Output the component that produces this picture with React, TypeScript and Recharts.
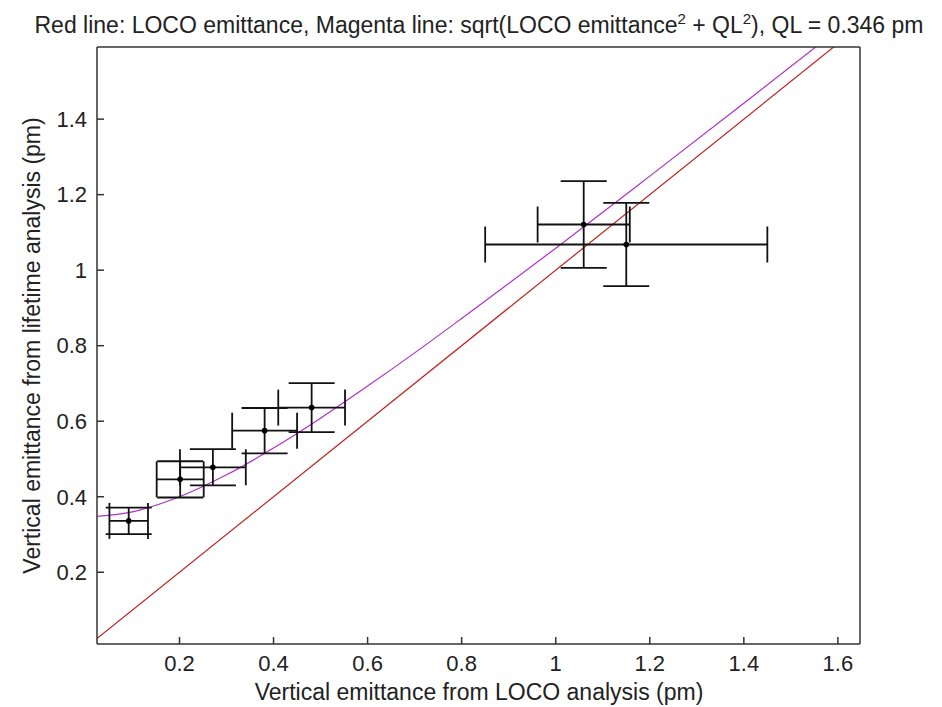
import React from "react";

//recharts
import { ComposedChart, Scatter, Line, XAxis, YAxis, ErrorBar } from "recharts";

//measured points: LOCO emittance (x) vs lifetime emittance (y), pm
const locoX = [0.092, 0.2015, 0.271, 0.381, 0.481, 1.0595, 1.15];
const locoXErr = [0.041, 0.05, 0.07, 0.069, 0.071, 0.098, 0.3];
const lifeY = [0.336, 0.446, 0.478, 0.575, 0.636, 1.121, 1.068];
const lifeYErr = [0.035, 0.048, 0.048, 0.06, 0.065, 0.115, 0.11];

//red line (y = x)
const redX = [0, 1.7];
const redY = [0, 1.7];

//magenta line
const fitX = [0, 0.1, 0.2, 0.3, 0.4, 0.5, 0.6, 0.7, 0.8, 1.0, 1.2, 1.4, 1.6];
const fitY = [0.346, 0.36, 0.4, 0.458, 0.529, 0.608, 0.693, 0.781, 0.872, 1.058, 1.249, 1.442, 1.637];

//axes
const xDomain = [0.0246, 1.647];
const yDomain = [0.01, 1.591];
const xTicks = [0.2, 0.4, 0.6, 0.8, 1, 1.2, 1.4, 1.6];
const yTicks = [0.2, 0.4, 0.6, 0.8, 1, 1.2, 1.4];

const points = locoX.map((x, i) => ({ x, y: lifeY[i], ex: locoXErr[i], ey: lifeYErr[i] }));
const redLine = redX.map((x, i) => ({ x, y: redY[i] }));
const magentaLine = fitX.map((x, i) => ({ x, y: fitY[i] }));

const font = "'Liberation Sans', Arial, sans-serif";
const axisColor = "#333";
const tickStyle = { fontSize: 22, fill: "#222", fontFamily: font };

const Dot = (props: any) => <circle cx={props.cx} cy={props.cy} r={2.8} fill="#000" />;

const App = () => {
  return (
    <div
      style={{
        position: "absolute",
        left: 0,
        top: 0,
        width: 942,
        height: 707,
        background: "#fff",
      }}
    >
      <ComposedChart
        width={942}
        height={707}
        margin={{ top: 45, right: 80, bottom: 0, left: 37 }}
      >
        <XAxis
          dataKey="x"
          type="number"
          domain={xDomain}
          allowDataOverflow
          ticks={xTicks}
          tickSize={-7}
          tickMargin={18}
          height={63}
          stroke={axisColor}
          strokeWidth={1.5}
          tick={tickStyle}
        />
        <XAxis
          xAxisId="top"
          orientation="top"
          type="number"
          domain={xDomain}
          allowDataOverflow
          ticks={xTicks}
          tickSize={-7}
          height={2}
          stroke={axisColor}
          strokeWidth={1.5}
          tick={false}
        />
        <YAxis
          type="number"
          domain={yDomain}
          allowDataOverflow
          ticks={yTicks}
          tickSize={-7}
          tickMargin={17}
          width={60}
          stroke={axisColor}
          strokeWidth={1.5}
          tick={tickStyle}
        />
        <YAxis
          yAxisId="right"
          orientation="right"
          type="number"
          domain={yDomain}
          allowDataOverflow
          ticks={yTicks}
          tickSize={-7}
          width={2}
          stroke={axisColor}
          strokeWidth={1.5}
          tick={false}
        />
        <Line
          data={redLine}
          dataKey="y"
          type="linear"
          stroke="#c02020"
          strokeWidth={1.2}
          dot={false}
          isAnimationActive={false}
        />
        <Line
          data={magentaLine}
          dataKey="y"
          type="monotone"
          stroke="#b030c8"
          strokeWidth={1.2}
          dot={false}
          isAnimationActive={false}
        />
        <Scatter data={points} dataKey="y" shape={Dot} isAnimationActive={false}>
          <ErrorBar dataKey="ex" direction="x" width={18} stroke="#111" strokeWidth={1.8} isAnimationActive={false} />
          <ErrorBar dataKey="ey" direction="y" width={23} stroke="#111" strokeWidth={1.8} isAnimationActive={false} />
        </Scatter>
      </ComposedChart>
      <svg
        width={942}
        height={707}
        style={{ position: "absolute", left: 0, top: 0, pointerEvents: "none" }}
      >
        <text x={479} y={33} textAnchor="middle" fontSize={23} fontFamily={font} fill="#222">
          Red line: LOCO emittance, Magenta line: sqrt(LOCO emittance
          <tspan fontSize={15} dy={-9}>2</tspan>
          <tspan dy={9}> + QL</tspan>
          <tspan fontSize={15} dy={-9}>2</tspan>
          <tspan dy={9}>), QL = 0.346 pm</tspan>
        </text>
        <text x={479} y={700} textAnchor="middle" fontSize={23} fontFamily={font} fill="#222">
          Vertical emittance from LOCO analysis (pm)
        </text>
        <text
          x={0}
          y={0}
          transform="translate(40, 345.5) rotate(-90)"
          textAnchor="middle"
          fontSize={23}
          fontFamily={font}
          fill="#222"
        >
          Vertical emittance from lifetime analysis (pm)
        </text>
      </svg>
    </div>
  );
};

export default App;
